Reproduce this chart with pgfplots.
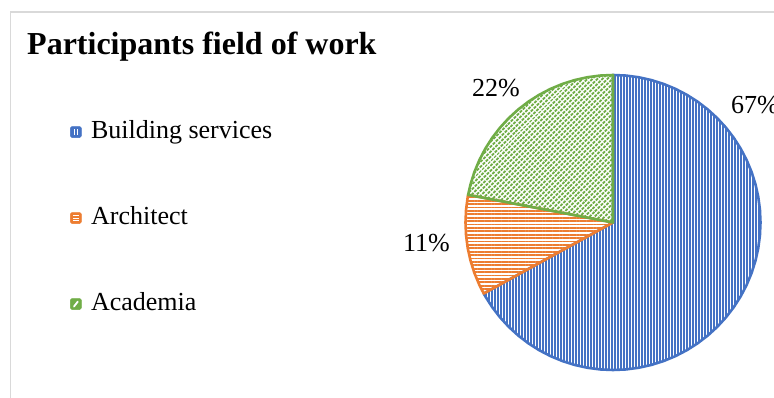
\documentclass[border=0pt]{standalone}
\usepackage{pgfplots}
\pgfplotsset{compat=1.18}
\usetikzlibrary{patterns.meta}
\usepackage{fontspec}
\setmainfont{Liberation Serif}
\definecolor{cBlue}{HTML}{4472C4}
\definecolor{cOrange}{HTML}{ED7D31}
\definecolor{cGreen}{HTML}{70AD47}
\definecolor{cFrame}{HTML}{D9D9D9}
\begin{document}
\begin{tikzpicture}
\useasboundingbox (0bp,0bp) rectangle (774bp,398bp);
\fill[white] (0bp,0bp) rectangle (774bp,398bp);
\draw[cFrame, line width=1.2bp] (10.5bp,0bp) -- (10.5bp,386bp) -- (774bp,386bp);
\node[anchor=base west, font=\bfseries\fontsize{32bp}{38bp}\selectfont, inner sep=0pt] at (27bp,343bp) {Participants field of work};
\begin{axis}[
  at={(613bp,175.5bp)}, anchor=center,
  scale only axis, width=295bp, height=295bp,
  xmin=-1, xmax=1, ymin=-1, ymax=1,
  hide axis, clip=false,
  legend cell align=left,
  legend style={at={(axis description cs:-1.3407,0.515)}, anchor=west,
    draw=none, fill=none, inner sep=0pt,
    font=\fontsize{26bp}{30bp}\selectfont,
    nodes={inner sep=1bp, text height=18bp, text depth=6bp},
    row sep=60bp, column sep=8.5bp},
]
% Building services 67%
\addplot[forget plot, data cs=polar,
  pattern={Lines[angle=90,distance=3bp,line width=1.7bp]}, pattern color=cBlue,
  draw=none, postaction={draw=cBlue, line join=round, line width=2.6bp}]
  coordinates {(0,0) (90,1) (85,1) (80,1) (75,1) (70,1) (65,1) (60,1) (55,1) (50,1) (45,1) (40,1) (35,1) (30,1) (25,1) (20,1) (15,1) (10,1) (5,1) (0,1) (-5,1) (-10,1) (-15,1) (-20,1) (-25,1) (-30,1) (-35,1) (-40,1) (-45,1) (-50,1) (-55,1) (-60,1) (-65,1) (-70,1) (-75,1) (-80,1) (-85,1) (-90,1) (-95,1) (-100,1) (-105,1) (-110,1) (-115,1) (-120,1) (-125,1) (-130,1) (-135,1) (-140,1) (-145,1) (-150,1) (-151.2,1)} -- cycle;
% Architect 11%
\addplot[forget plot, data cs=polar,
  pattern={Lines[angle=0,distance=3.4bp,line width=1.8bp]}, pattern color=cOrange,
  draw=none, postaction={draw=cOrange, line join=round, line width=2.6bp}]
  coordinates {(0,0) (-151.2,1) (-155,1) (-160,1) (-165,1) (-170,1) (-175,1) (-180,1) (-185,1) (-190,1) (-190.8,1)} -- cycle;
% Academia 22%
\addplot[forget plot, data cs=polar,
  pattern={Lines[angle=45,distance=3.6bp,line width=2.1bp]}, pattern color=cGreen,
  draw=none, postaction={draw=cGreen, line join=round, line width=2.6bp}]
  coordinates {(0,0) (169.2,1) (165,1) (160,1) (155,1) (150,1) (145,1) (140,1) (135,1) (130,1) (125,1) (120,1) (115,1) (110,1) (105,1) (100,1) (95,1) (90,1)} -- cycle;
\addlegendimage{legend image code/.code={
  \fill[cBlue, rounded corners=1.5bp] (0bp,-5.5bp) rectangle (11bp,5.5bp);
  \draw[white, line width=1.1bp] (4.2bp,-3bp) -- (4.2bp,3bp) (6.8bp,-3bp) -- (6.8bp,3bp);}}
\addlegendentry{Building services}
\addlegendimage{legend image code/.code={
  \fill[cOrange, rounded corners=1.5bp] (0bp,-5.5bp) rectangle (11bp,5.5bp);
  \draw[white, line width=1bp] (2.8bp,-2.7bp) -- (8.2bp,-2.7bp) (2.8bp,0bp) -- (8.2bp,0bp) (2.8bp,2.7bp) -- (8.2bp,2.7bp);}}
\addlegendentry{Architect}
\addlegendimage{legend image code/.code={
  \fill[cGreen, rounded corners=1.5bp] (0bp,-5.5bp) rectangle (11bp,5.5bp);
  \draw[white, line width=1.8bp, line cap=round] (3.6bp,-2.5bp) -- (7.4bp,2.5bp);}}
\addlegendentry{Academia}
\end{axis}
\begin{scope}[every node/.style={anchor=base west, inner sep=0pt, font=\fontsize{26bp}{30bp}\selectfont}]
\node at (731bp,284bp) {67\%};
\node at (472bp,301bp) {22\%};
\node at (403bp,146bp) {11\%};
\end{scope}
\end{tikzpicture}
\end{document}
